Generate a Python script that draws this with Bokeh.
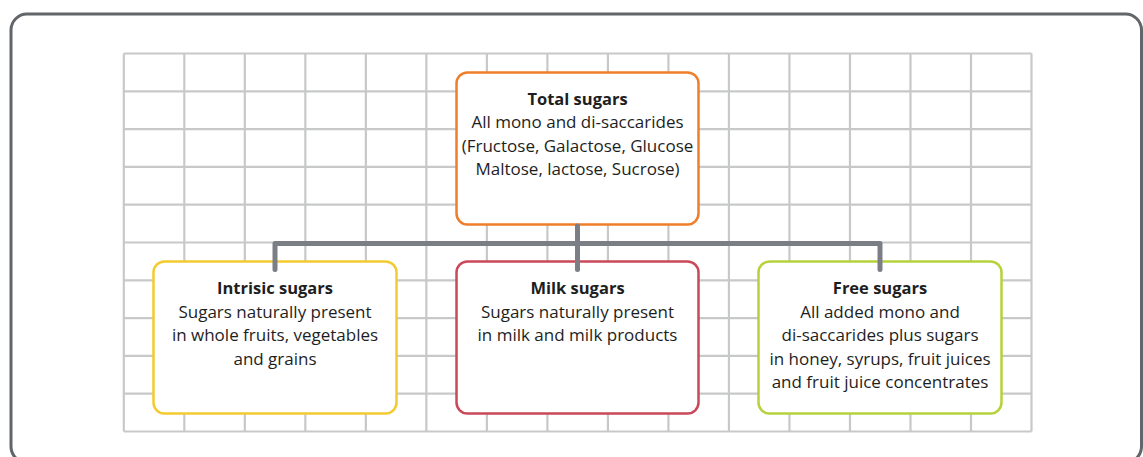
from bokeh.plotting import figure
from bokeh.models import Range1d
from bokeh.core.properties import value
from bokeh.embed import file_html
from bokeh.resources import INLINE

# ---- content ----
titles = ["Total sugars", "Intrisic sugars", "Milk sugars", "Free sugars"]
descriptions = [
    ["All mono and di-saccarides", "(Fructose, Galactose, Glucose", "Maltose, lactose, Sucrose)"],
    ["Sugars naturally present", "in whole fruits, vegetables", "and grains"],
    ["Sugars naturally present", "in milk and milk products"],
    ["All added mono and", "di-saccarides plus sugars", "in honey, syrups, fruit juices", "and fruit juice concentrates"],
]
box_colors = ["#ef7d2a", "#f3ca2f", "#c9495a", "#b5d23c"]

# ---- layout (screen-pixel coordinates) ----
box_left = [456, 153, 456, 758]
box_right = [698, 396, 698, 1001]
box_top = [72, 261, 261, 261]
box_bottom = [224, 413, 413, 413]
first_center = [97.5, 287, 287, 287]
line_h = 23.5

grid_x0, grid_x1, n_cols = 123.3, 1031, 15
grid_y0, grid_y1, n_rows = 53, 431, 10

W, H = 1143, 457
p = figure(width=W, height=H, output_backend="svg", toolbar_location=None,
           x_range=Range1d(0, W), y_range=Range1d(H, 0),
           min_border=0)
p.axis.visible = False
p.grid.visible = False
p.outline_line_color = None
p.background_fill_color = "white"
p.border_fill_color = "white"

# outer rounded frame
p.quad(left=[10.5], right=[1141], top=[13.5], bottom=[462],
       fill_color=None, line_color="#626569", line_width=3, border_radius=16)

# background grid
xs = [grid_x0 + i * (grid_x1 - grid_x0) / n_cols for i in range(n_cols + 1)]
ys = [grid_y0 + j * (grid_y1 - grid_y0) / n_rows for j in range(n_rows + 1)]
p.segment(x0=xs, x1=xs, y0=[grid_y0] * len(xs), y1=[grid_y1] * len(xs),
          line_color="#c7c9c8", line_width=2.2)
p.segment(x0=[grid_x0] * len(ys), x1=[grid_x1] * len(ys), y0=ys, y1=ys,
          line_color="#c7c9c8", line_width=2.2)

# boxes
p.quad(left=box_left, right=box_right, top=box_top, bottom=box_bottom,
       fill_color="white", line_color=box_colors, line_width=2.5, border_radius=11)

# connectors (drawn over the box borders)
cx = [(l + r) / 2 for l, r in zip(box_left, box_right)]
bar_y = 243
conn = "#7b7f85"
p.line(x=[cx[1], cx[1], cx[3], cx[3]], y=[269, bar_y, bar_y, 269],
       line_color=conn, line_width=5, line_cap="round", line_join="round")
p.line(x=[cx[0], cx[0]], y=[box_bottom[0] + 1.5, 269],
       line_color=conn, line_width=5, line_cap="round")

# texts
tx, ty, tt = [], [], []
dx, dy, dt = [], [], []
for i, t in enumerate(titles):
    tx.append(cx[i]); ty.append(first_center[i]); tt.append(t)
    for k, line in enumerate(descriptions[i]):
        dx.append(cx[i]); dy.append(first_center[i] + (k + 1) * line_h); dt.append(line)

p.text(x=tx, y=ty, text=tt, text_align="center", text_baseline="middle",
       text_font=value("Open Sans"), text_font_size="16.5px", text_font_style="bold",
       text_color="#1e1e1e")
p.text(x=dx, y=dy, text=dt, text_align="center", text_baseline="middle",
       text_font=value("Open Sans"), text_font_size="17px",
       text_color="#1e1e1e")

open("out.html", "w").write(file_html(p, INLINE))
